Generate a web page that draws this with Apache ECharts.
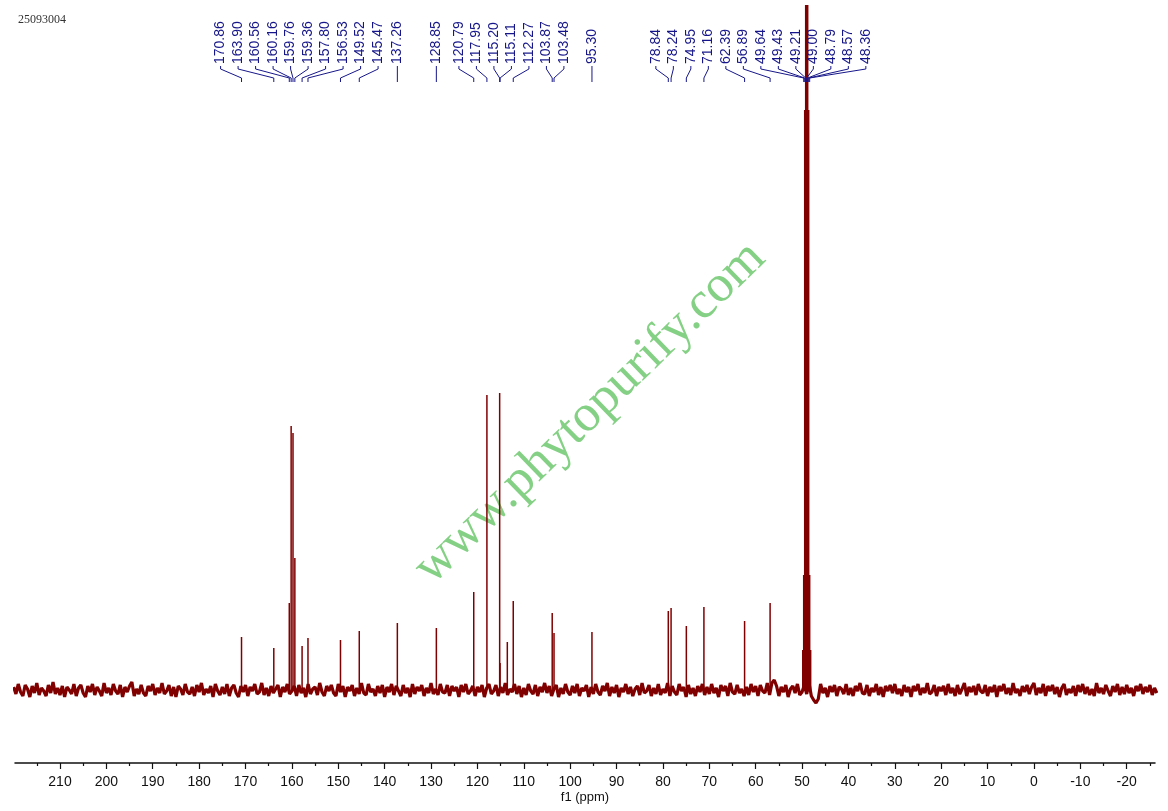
<!DOCTYPE html>
<html><head><meta charset="utf-8">
<script src="https://cdn.jsdelivr.net/npm/echarts@6/dist/echarts.min.js"></script>
<style>html,body{margin:0;padding:0;background:#fff}#c{width:1168px;height:811px}</style>
</head><body><div id="c"></div>
<script>
// ---- data ----
const sampleId = '25093004';
const watermarkText = 'www.phytopurify.com';
const axisTitle = 'f1 (ppm)';
const xMin = -26.1, xMax = 219.7;
const tickLabels = [210,200,190,180,170,160,150,140,130,120,110,100,90,80,70,60,50,40,30,20,10,0,-10,-20];
const minorTicks = [215,205,195,185,175,165,155,145,135,125,115,105,95,85,75,65,55,45,35,25,15,5,-5,-15,-25];
const peakPpm    = [170.86,163.90,160.56,160.16,159.76,159.36,157.80,156.53,149.52,145.47,137.26,128.85,120.79,117.95,115.20,115.11,113.55,112.27,103.87,103.48,95.30,78.84,78.24,74.95,71.16,62.39,56.89];
const peakHeight = [53,42,87,264,257,132,44,52,50,59,67,62,98,295,297,27,48,89,77,57,58,79,82,64,83,69,87];
const solventPpm    = [49.64,49.43,49.21,49.00,48.79,48.57,48.36];
const solventHeight = [40,115,580,690,580,115,40];
const shiftLabels = ['170.86','163.90','160.56','160.16','159.76','159.36','157.80','156.53','149.52','145.47','137.26','128.85','120.79','117.95','115.20','115.11','112.27','103.87','103.48','95.30','78.84','78.24','74.95','71.16','62.39','56.89','49.64','49.43','49.21','49.00','48.79','48.57','48.36'];
// baseline noise, one value every 0.5 ppm starting at 220 ppm
const noiseStart = 220, noiseStep = 0.5;
const noise = [
 3,-4,6,-2,-6,5,1,-7,4,-3,7,-5,2,-1,-6,5,-3,8,-4,2,
 -5,4,-7,3,0,-4,6,-6,2,5,-3,-7,4,-2,6,-5,3,-1,-6,7,
 -3,2,-5,6,-1,-4,5,-7,3,-2,4,8,-6,1,-4,5,-3,-6,4,-1,
 6,-5,2,-3,7,-4,-1,5,-6,3,-7,4,1,-5,6,-2,-4,3,-6,5,
 -2,7,-5,1,-3,4,-7,6,-1,-5,3,-4,6,-6,2,5,-3,-7,4,-2,
 5,-6,3,-1,6,-4,-2,7,-5,2,-6,4,-3,1,5,-7,3,-2,6,-4,
 -1,4,-6,5,-3,2,-7,6,-4,1,3,-5,7,-2,-6,4,-1,5,-3,-6,
 6,-2,4,-7,3,-1,5,-6,2,-4,7,-3,-5,6,-2,1,-6,4,-3,5,
 -7,3,-2,6,-5,4,-1,-6,5,-3,2,-7,6,-4,3,-1,5,-6,2,-3,
 7,-4,1,-5,6,-2,-3,5,-6,4,-1,3,-7,5,-2,6,-4,-1,4,-6,
 3,-2,5,-7,2,6,-4,-1,5,-6,3,-3,7,-5,1,-2,6,-4,4,-7,
 2,-5,6,-1,-4,5,-6,3,-2,7,-3,4,-6,1,5,-7,2,-4,6,-2,
 -5,4,-3,6,-6,2,-1,5,-7,3,-4,6,-2,-5,4,-1,7,-6,3,-3,
 5,-7,2,-2,6,-4,3,-6,1,4,-5,7,-3,-1,5,-6,2,-4,6,-5,
 1,-3,7,-6,4,-2,-5,6,-1,3,-7,5,-4,2,-6,4,-2,6,-5,3,
 -4,6,-3,2,-7,5,-1,4,-6,7,-2,-4,5,-3,1,-6,3,-5,6,-2,
 4,-6,5,-1,-3,7,-5,7,10,4,-6,3,-2,5,-7,1,4,-3,6,-5,
 -2,5,-4,7,-6,-10,-13,-9,6,-3,2,-7,4,-2,5,-6,3,1,-4,6,
 -5,2,-6,4,-1,7,-3,-4,5,-6,2,-2,6,-5,3,-7,4,-1,5,-3,
 6,-4,1,-6,5,-2,3,-7,4,-1,6,-5,2,-3,7,-4,-2,5,-6,3,
 -1,4,-5,6,-3,2,-6,5,-4,1,7,-6,3,-2,4,-5,6,-1,-3,5,
 -6,3,-2,5,-7,4,-1,6,-4,2,-5,7,-3,1,-6,4,-2,5,-4,3,
 7,-5,2,-3,6,-6,4,-1,5,-4,3,-7,2,6,-5,1,-3,4,-6,5,
 -2,6,-4,3,-5,1,-6,7,-3,2,-4,5,-1,-6,4,-2,6,-5,3,-4,
 5,-3,2,-6,4,-1,6,-4,3,-2,5,-5,2,-3];

// ---- build ----
const RED = '#800000', BLUE = '#16168a';
const noiseData = noise.map((v, i) => [noiseStart - i * noiseStep, v]);
const peakData = peakPpm.map((p, i) => [p, peakHeight[i]]);
const solventData = solventPpm.map((p, i) => [p, solventHeight[i]]);
function stick(width) {
  return function (params, api) {
    const x = api.value(0), h = api.value(1);
    const a = api.coord([x, 0]), b = api.coord([x, h]);
    return {type: 'line', shape: {x1: a[0], y1: a[1], x2: b[0], y2: b[1]},
            style: {stroke: RED, lineWidth: width}};
  };
}
const chart = echarts.init(document.getElementById('c'));
const baseX = {
  type: 'value', inverse: true, min: xMin, max: xMax, position: 'bottom',
  splitLine: {show: false}
};
chart.setOption({
  animation: false,
  grid: {left: 15, right: 13, top: 5, bottom: 48, containLabel: false, outerBoundsMode: 'none'},
  xAxis: [
    Object.assign({}, baseX, {
      axisLine: {show: true, onZero: false, lineStyle: {color: '#111', width: 1.5}},
      axisTick: {show: true, customValues: tickLabels, length: 6, lineStyle: {color: '#111', width: 1.2}},
      axisLabel: {show: true, customValues: tickLabels, margin: 12, color: '#111', fontSize: 14, fontFamily: 'Liberation Sans'},
      name: axisTitle, nameLocation: 'middle', nameGap: 28, nameMoveOverlap: false,
      nameTextStyle: {color: '#111', fontSize: 13, fontFamily: 'Liberation Sans'}
    }),
    Object.assign({}, baseX, {
      axisLine: {show: false, onZero: false},
      axisTick: {show: true, customValues: minorTicks, length: 3, lineStyle: {color: '#111', width: 1.2}},
      axisLabel: {show: false}
    })
  ],
  yAxis: {type: 'value', min: -73, max: 685, show: false},
  series: [
    {type: 'line', data: noiseData, showSymbol: false, symbol: 'none', clip: true,
     lineStyle: {color: RED, width: 3.2}, z: 2},
    {type: 'custom', data: peakData, renderItem: stick(1.5), clip: true, z: 3},
    {type: 'custom', data: solventData, renderItem: stick(3.5), clip: true, z: 3}
  ]
});

// ---- peak label layout ----
const sp = 17.5;
const items = shiftLabels.map(s => ({text: s, px: chart.convertToPixel({xAxisIndex: 0}, parseFloat(s))}));
items.sort((a, b) => a.px - b.px);
const groups = [];
function gStart(g) { return g.sum / g.items.length - (g.items.length - 1) / 2 * sp; }
function gEnd(g) { return gStart(g) + (g.items.length - 1) * sp; }
items.forEach(it => {
  groups.push({items: [it], sum: it.px});
  while (groups.length > 1) {
    const b = groups[groups.length - 1], a = groups[groups.length - 2];
    if (gStart(b) - gEnd(a) < sp) {
      a.items = a.items.concat(b.items); a.sum += b.sum; groups.pop();
    } else break;
  }
});
const elements = [];
groups.forEach(g => {
  const s = gStart(g);
  g.items.forEach((it, k) => {
    const lx = s + k * sp;
    elements.push({type: 'text', x: lx, y: 64, rotation: Math.PI / 2, z: 10,
      style: {text: it.text, fill: BLUE, font: '14px "Liberation Sans"', textAlign: 'left', textVerticalAlign: 'middle'}});
    elements.push({type: 'polyline', z: 10,
      shape: {points: [[lx, 66], [lx, 69], [it.px, 78], [it.px, 82]]},
      style: {stroke: BLUE, lineWidth: 1, fill: null}});
  });
});
elements.push({type: 'text', x: 18, y: 20, z: 10,
  style: {text: sampleId, fill: '#333', font: '12px "Liberation Serif"', textVerticalAlign: 'middle'}});
elements.push({type: 'text', x: 590, y: 413, rotation: 44.2 * Math.PI / 180, z: 0, zlevel: 0,
  style: {text: watermarkText, fill: '#84d084', font: '52px "Liberation Serif"', textAlign: 'center', textVerticalAlign: 'middle'}});
chart.setOption({graphic: {elements: elements}});
</script>
</body></html>
